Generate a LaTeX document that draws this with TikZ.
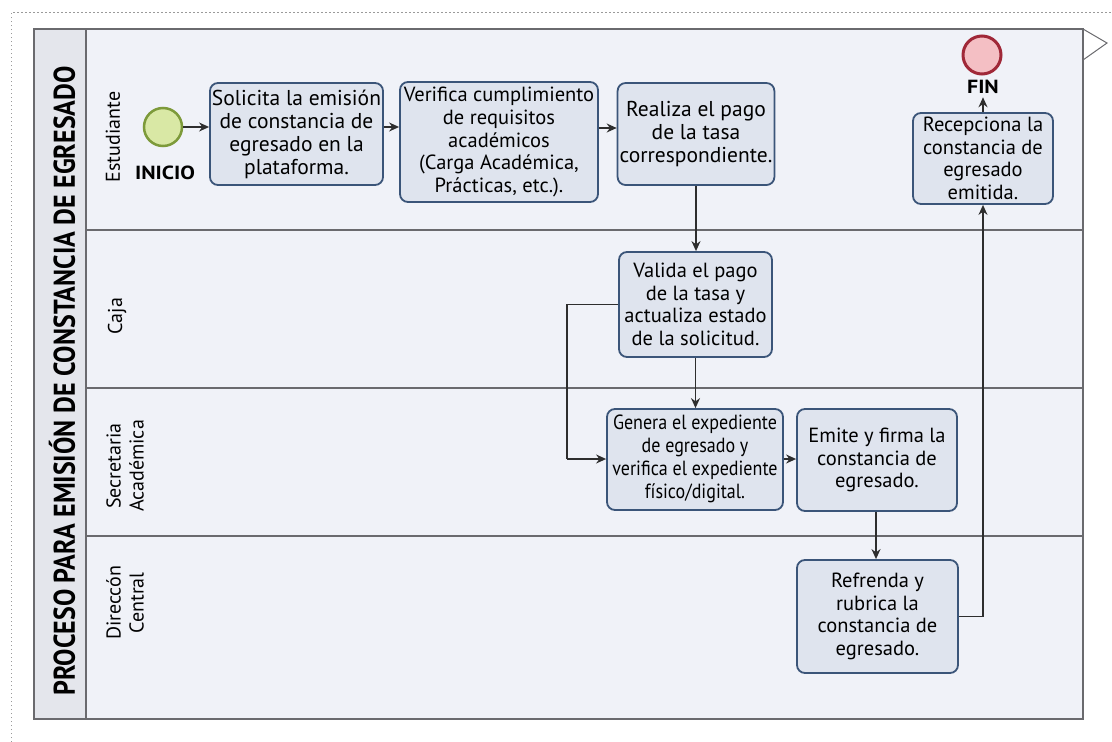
\documentclass[tikz,border=0pt]{standalone}
\usepackage{fontspec}
\setmainfont{PT Sans}
\usetikzlibrary{arrows.meta}
\definecolor{poolbg}{HTML}{F0F2F8}
\definecolor{titlebg}{HTML}{E4E6EC}
\definecolor{laneline}{HTML}{6A6A6E}
\definecolor{taskfill}{HTML}{DFE4EE}
\definecolor{taskdraw}{HTML}{3B5579}
\definecolor{flowc}{HTML}{2E2E2E}
\definecolor{startfill}{HTML}{D9E8A5}
\definecolor{startdraw}{HTML}{7D9A3A}
\definecolor{endfill}{HTML}{F4BFC4}
\definecolor{enddraw}{HTML}{A02838}
\definecolor{dotc}{HTML}{9A9A9A}
\tikzset{
  task/.style={draw=taskdraw, fill=taskfill, line width=1.8pt, rounded corners=8pt,
    align=center, inner sep=2pt, font=\fontsize{20.5}{22.7}\selectfont},
  bigtxt/.style={font=\fontsize{21.5}{23}\selectfont},
  flow/.style={draw=flowc, line width=1.4pt, -{Stealth[length=10pt,width=9pt]}},
  plain/.style={draw=flowc, line width=1.4pt},
  lanelbl/.style={rotate=90, align=center, font=\fontsize{20}{23}\selectfont},
  evlbl/.style={font=\fontsize{19}{21}\selectfont\bfseries},
}
\begin{document}
\begin{tikzpicture}[x=1pt,y=-1pt]
\useasboundingbox (0,0) rectangle (1112,742);
\fill[white] (0,0) rectangle (1112,742);
% outer dotted frame
\draw[dotc, line width=0.8pt, dash pattern=on 1.5pt off 2.5pt] (11,742) -- (11,12) -- (1112,12);
% pool
\fill[poolbg] (34,29) rectangle (1083,719);
\fill[titlebg] (34,29) rectangle (86,719);
\draw[laneline, line width=1.3pt] (34,29) rectangle (1083,719);
\draw[laneline, line width=1.3pt] (86,29) -- (86,719);
\draw[laneline, line width=1.3pt] (86,230) -- (1083,230);
\draw[laneline, line width=1.3pt] (86,388) -- (1083,388);
\draw[laneline, line width=1.3pt] (86,536) -- (1083,536);
\draw[laneline, line width=1pt] (1083,29) -- (1107,43) -- (1083,60);
% title
\node[rotate=90, font=\fontsize{30}{32}\selectfont\bfseries] (title) at (62,381) {\scalebox{0.865}[1]{PROCESO PARA EMISIÓN DE CONSTANCIA DE EGRESADO}};
% lane labels
\node[lanelbl] (l1) at (113,137) {Estudiante};
\node[lanelbl] (l2) at (117,316) {Caja};
\node[lanelbl] (l3) at (125,466) {Secretaria\\Académica};
\node[lanelbl] (l4) at (125,603) {Direccón\\Central};
% events
\node[circle, draw=startdraw, fill=startfill, line width=2.5pt, minimum size=38pt, inner sep=0pt] (start) at (163,127) {};
\node[evlbl] (startlbl) at (165,173) {\scalebox{1.15}[1]{INICIO}};
\node[circle, draw=enddraw, fill=endfill, line width=3pt, minimum size=38pt, inner sep=0pt] (end) at (982,55) {};
\node[evlbl] (endlbl) at (983,87) {\scalebox{1.15}[1]{FIN}};
% tasks
\node[task, bigtxt, minimum width=167pt, minimum height=102pt] (t1) at (296.5,134) {Solicita la emisión\\de constancia de\\egresado en la\\plataforma.};
\node[task, minimum width=198pt, minimum height=120pt] (t2) at (499,142) {Verifica cumplimiento\\de requisitos\\académicos\\(Carga Académica,\\Prácticas, etc.).};
\node[task, bigtxt, minimum width=154pt, minimum height=102pt] (t3) at (696,134) {Realiza el pago\\de la tasa\\correspondiente.};
\node[task, minimum width=153pt, minimum height=105pt] (t4) at (695.5,304.5) {Valida el pago\\de la tasa y\\actualiza estado\\de la solicitud.};
\node[task, minimum width=176pt, minimum height=101pt] (t5) at (695,459.5) {\scalebox{0.88}[1]{\begin{tabular}{@{}c@{}}Genera el expediente\\de egresado y\\verifica el expediente\\físico/digital.\end{tabular}}};
\node[task, minimum width=160pt, minimum height=102pt] (t6) at (877,460) {Emite y firma la\\constancia de\\egresado.};
\node[task, minimum width=161pt, minimum height=113pt] (t7) at (877.5,616.5) {Refrenda y\\rubrica la\\constancia de\\egresado.};
\node[task, minimum width=140pt, minimum height=91pt] (t8) at (983,158.5) {Recepciona la\\constancia de\\egresado\\emitida.};
% connectors
\coordinate (lp) at (567,459);
\draw[flow] (start.east) -- (start.east -| t1.west);
\draw[flow] (t1.east |- start) -- (t2.west |- start);
\draw[flow] (t2.east |- 0,128) -- (t3.west |- 0,128);
\draw[flow] (t3.south) -- (t3.south |- t4.north);
\draw[flow] (t4.south) -- (t4.south |- t5.north);
\draw[plain] (t4.west) -| (lp);
\draw[flow] (lp) -- (lp -| t5.west);
\draw[flow] (t5.east |- lp) -- (t6.west |- lp);
\draw[flow] (t6.south -| 876,0) -- (t7.north -| 876,0);
\draw[flow] (t7.east) -| (t8.south);
\draw[flow] (t8.north) -- (endlbl.south);
\end{tikzpicture}
\end{document}
